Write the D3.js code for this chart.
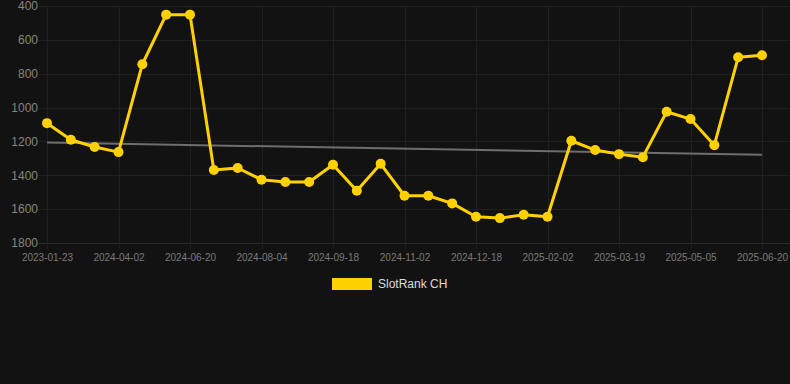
<!DOCTYPE html>
<html>
<head>
<meta charset="utf-8">
<script src="https://cdn.jsdelivr.net/npm/d3@7"></script>
<style>
  html, body { margin: 0; padding: 0; background: #121212; }
  svg { display: block; font-family: Arial, "Liberation Sans", sans-serif; }
  .grid line { stroke: #1f1f1f; stroke-width: 1; }
  .axis text { fill: #858585; }
  .axis .domain { display: none; }
</style>
</head>
<body>
<svg id="chart"></svg>
<script>
// dates of each rank snapshot (only every third one is labelled on the axis)
const dates = [
  "2023-01-23", "2023-06-01", "2023-11-15", "2024-04-02", "2024-04-28", "2024-05-24",
  "2024-06-20", "2024-07-05", "2024-07-20", "2024-08-04", "2024-08-19", "2024-09-03",
  "2024-09-18", "2024-10-03", "2024-10-18", "2024-11-02", "2024-11-17", "2024-12-03",
  "2024-12-18", "2025-01-02", "2025-01-18", "2025-02-02", "2025-02-17", "2025-03-04",
  "2025-03-19", "2025-04-04", "2025-04-19", "2025-05-05", "2025-05-20", "2025-06-04",
  "2025-06-20"
];

// SlotRank CH position at each date
const ranks = [
  1092, 1190, 1233, 1263, 744, 451,
  451, 1369, 1357, 1426, 1440, 1440,
  1338, 1491, 1332, 1521, 1521, 1566,
  1645, 1653, 1633, 1645, 1196, 1251,
  1275, 1293, 1025, 1068, 1222, 703,
  691
];

const xTickLabels = [
  "2023-01-23", "2024-04-02", "2024-06-20", "2024-08-04", "2024-09-18", "2024-11-02",
  "2024-12-18", "2025-02-02", "2025-03-19", "2025-05-05", "2025-06-20"
];
const yTicks = [400, 600, 800, 1000, 1200, 1400, 1600, 1800];
const seriesName = "SlotRank CH";

const config = {
  width: 790,
  height: 384,
  left: 47,
  right: 762,
  top: 6,
  bottom: 243,
  gridLeft: 38,
  gridRight: 790
};

const svg = d3.select("#chart")
  .attr("width", config.width)
  .attr("height", config.height);

const xScale = d3.scalePoint()
  .domain(dates)
  .range([config.left, config.right]);

const yScale = d3.scaleLinear()
  .domain([400, 1800])
  .range([config.top, config.bottom]);

// horizontal grid
svg.append("g")
  .attr("class", "grid")
  .selectAll("line")
  .data(yTicks)
  .join("line")
    .attr("x1", config.gridLeft)
    .attr("x2", config.gridRight)
    .attr("y1", d => Math.round(yScale(d)) + 0.5)
    .attr("y2", d => Math.round(yScale(d)) + 0.5)
    .style("stroke", d => d === 1800 ? "#2c2c2c" : null);

// vertical grid at labelled dates
svg.append("g")
  .attr("class", "grid")
  .selectAll("line")
  .data(xTickLabels)
  .join("line")
    .attr("x1", d => Math.round(xScale(d)) + 0.5)
    .attr("x2", d => Math.round(xScale(d)) + 0.5)
    .attr("y1", config.top)
    .attr("y2", config.bottom + 6);

// y axis labels
const yAxis = d3.axisLeft(yScale)
  .tickValues(yTicks)
  .tickSize(0)
  .tickPadding(0)
  .tickFormat(d3.format("d"));

svg.append("g")
  .attr("class", "axis y-axis")
  .attr("transform", `translate(${config.gridLeft},0)`)
  .call(yAxis)
  .selectAll("text")
    .style("font-size", "12px");

// x axis labels
const xAxis = d3.axisBottom(xScale)
  .tickValues(xTickLabels)
  .tickSize(0)
  .tickPadding(11);

svg.append("g")
  .attr("class", "axis x-axis")
  .attr("transform", `translate(0,${config.bottom})`)
  .call(xAxis)
  .selectAll("text")
    .style("font-size", "10px")
    .style("fill", "#7a7a7a");

// trend line (least squares over the series)
const n = ranks.length;
const meanI = d3.mean(ranks, (d, i) => i);
const meanV = d3.mean(ranks);
const slope = d3.sum(ranks, (d, i) => (i - meanI) * (d - meanV)) / d3.sum(ranks, (d, i) => (i - meanI) ** 2);
const trend = [0, n - 1].map(i => ({ date: dates[i], value: meanV + slope * (i - meanI) }));

svg.append("path")
  .datum(trend)
  .attr("fill", "none")
  .attr("stroke", "#6e6e6e")
  .attr("stroke-width", 2)
  .attr("d", d3.line().x(d => xScale(d.date)).y(d => yScale(d.value)));

// main series
const series = dates.map((d, i) => ({ date: d, value: ranks[i] }));

svg.append("path")
  .datum(series)
  .attr("fill", "none")
  .attr("stroke", "#ffd100")
  .attr("stroke-width", 3)
  .attr("stroke-linejoin", "round")
  .attr("d", d3.line().x(d => xScale(d.date)).y(d => yScale(d.value)));

svg.append("g")
  .selectAll("circle")
  .data(series)
  .join("circle")
    .attr("cx", d => xScale(d.date))
    .attr("cy", d => yScale(d.value))
    .attr("r", 5)
    .attr("fill", "#ffd100");

// legend
const legend = svg.append("g")
  .attr("transform", "translate(332,278)");

legend.append("rect")
  .attr("width", 40)
  .attr("height", 12)
  .attr("fill", "#ffd100");

legend.append("text")
  .attr("x", 46)
  .attr("y", 6)
  .attr("dy", "0.35em")
  .style("font-size", "12px")
  .style("fill", "#dddddd")
  .text(seriesName);
</script>
</body>
</html>
